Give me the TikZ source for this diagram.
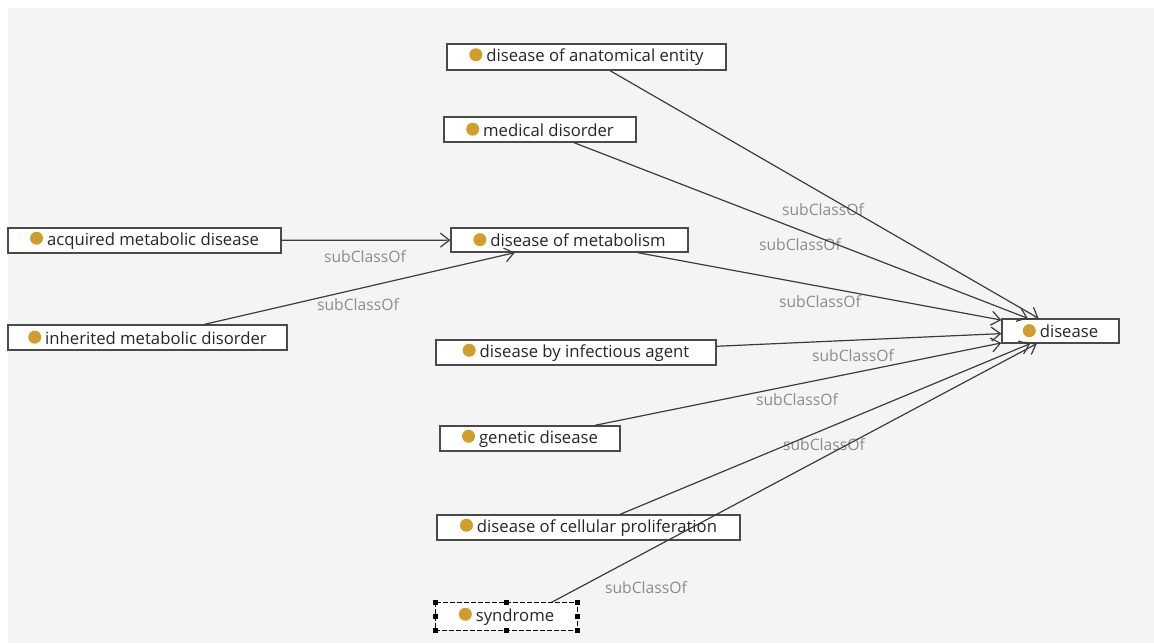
\documentclass[tikz,border=0pt]{standalone}
\usepackage{fontspec}
\setmainfont{Open Sans}
\usetikzlibrary{arrows.meta}
\definecolor{panel}{HTML}{F4F4F4}
\definecolor{classdot}{HTML}{D09E2A}
\definecolor{edgegray}{HTML}{3C3C3C}
\definecolor{boxgray}{HTML}{4A4A4A}
\definecolor{labelgray}{HTML}{8C8C8C}
\definecolor{nodetext}{HTML}{25252F}
\newcommand{\classdot}{\tikz[baseline={(0,-7pt)}]\fill[classdot] (0,0) circle (6.5pt);}
\tikzset{
  cls/.style={draw=boxgray, line width=1.3pt, fill=white, inner sep=0pt,
    minimum height=25pt, text=nodetext, font=\fontsize{16.7}{18}\selectfont},
  selcls/.style={cls, draw=none},
  lab/.style={text=labelgray, inner sep=0pt, font=\fontsize{15.7}{17}\selectfont},
  edge/.style={draw=edgegray, line width=1.2pt, -{Straight Barb[length=9pt,width=14pt,line width=1.2pt]}},
  handle/.style={fill=black},
}
\begin{document}
\begin{tikzpicture}[x=1pt,y=-1pt]
\useasboundingbox (0,0) rectangle (1154,643);
\fill[white] (0,0) rectangle (1154,643);
\fill[panel] (8,8) rectangle (1154,643);

% class nodes
\node[cls, minimum width=279pt, minimum height=26pt] (anat) at (586.5,57) {\classdot\hspace{4pt}disease of anatomical entity};
\node[cls, minimum width=192pt] (med) at (540,129.5) {\classdot\hspace{4pt}medical disorder};
\node[cls, minimum width=273pt] (acq) at (144.5,240.5) {\classdot\hspace{4pt}acquired metabolic disease};
\node[cls, minimum width=279pt] (inh) at (147.5,337.5) {\classdot\hspace{4pt}inherited metabolic disorder};
\node[cls, minimum width=237pt, minimum height=24pt] (metab) at (569.5,240) {\classdot\hspace{4pt}disease of metabolism};
\node[cls, minimum width=280pt] (infect) at (576,352.5) {\classdot\hspace{4pt}disease by infectious agent};
\node[cls, minimum width=180pt] (gen) at (530,438.5) {\classdot\hspace{4pt}genetic disease};
\node[cls, minimum width=303pt] (cell) at (588.5,527.5) {\classdot\hspace{4pt}disease of cellular proliferation};
\node[selcls, minimum width=141pt, minimum height=27pt] (syn) at (506.5,616.5) {\classdot\hspace{4pt}syndrome};
\node[cls, minimum width=117pt, minimum height=24pt] (dis) at (1060.5,331) {\classdot\hspace{4pt}disease};

% selection frame round the syndrome node
\draw[black, line width=1.4pt, dash pattern=on 5pt off 2pt] (syn.north west) rectangle (syn.south east);
\foreach \a in {north west,north,north east,east,south east,south,south west,west}
  \fill[handle] (syn.\a) +(-2.3,-2.3) rectangle +(2.3,2.3);

% edge labels
\node[lab] (l1) at (365,257) {subClassOf};
\node[lab] (l2) at (358,305) {subClassOf};
\node[lab] (l3) at (823,210) {subClassOf};
\node[lab] (l4) at (800,245) {subClassOf};
\node[lab] (l5) at (820,302) {subClassOf};
\node[lab] (l6) at (853,356) {subClassOf};
\node[lab] (l7) at (797,400) {subClassOf};
\node[lab] (l8) at (824,445) {subClassOf};
\node[lab] (l9) at (646,588) {subClassOf};

% subClassOf edges
\draw[edge] (acq) -- (metab);
\draw[edge] (inh) -- (metab);
\draw[edge] (anat) -- (dis);
\draw[edge] (med) -- (dis);
\draw[edge] (metab) -- (dis);
\draw[edge] (infect) -- (dis);
\draw[edge] (gen) -- (dis);
\draw[edge] (cell) -- (dis);
\draw[edge] ([xshift=45pt]syn.north) -- (dis);
\end{tikzpicture}
\end{document}
